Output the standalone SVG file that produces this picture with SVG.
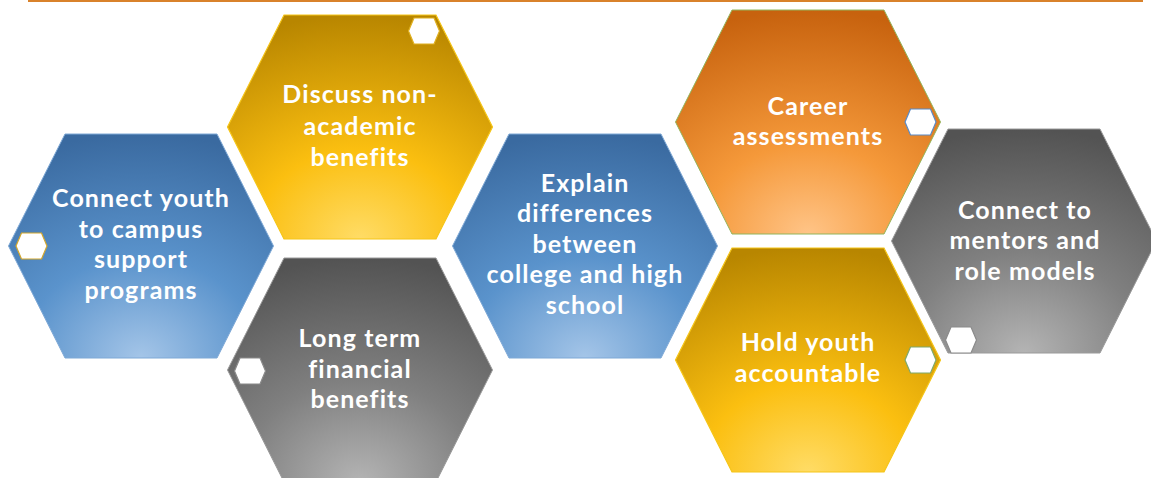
<svg xmlns="http://www.w3.org/2000/svg" width="1151" height="478" viewBox="0 0 1151 478">
<defs>
<radialGradient id="gBlue" cx="0.5" cy="1" r="1" fx="0.5" fy="1">
<stop offset="0" stop-color="#a4c5e8"/><stop offset="0.45" stop-color="#5a93cc"/><stop offset="1" stop-color="#3a6aa0"/>
</radialGradient>
<radialGradient id="gGold" cx="0.5" cy="1" r="1" fx="0.5" fy="1">
<stop offset="0" stop-color="#ffdc66"/><stop offset="0.4" stop-color="#fbbf10"/><stop offset="1" stop-color="#b88600"/>
</radialGradient>
<radialGradient id="gGray" cx="0.5" cy="1" r="1" fx="0.5" fy="1">
<stop offset="0" stop-color="#b4b4b4"/><stop offset="0.45" stop-color="#808080"/><stop offset="1" stop-color="#535353"/>
</radialGradient>
<radialGradient id="gOrange" cx="0.5" cy="1" r="1" fx="0.5" fy="1">
<stop offset="0" stop-color="#ffc487"/><stop offset="0.4" stop-color="#f5993a"/><stop offset="1" stop-color="#c7620e"/>
</radialGradient>
<polygon id="hex" points="-76,-112 76,-112 132.5,0 76,112 -76,112 -132.5,0"/>
<polygon id="mini" points="-10,-13 10,-13 15.5,0 10,13 -10,13 -15.5,0"/>
</defs>
<style>
.t{font-family:Lato,"Liberation Sans",sans-serif;font-weight:bold;font-size:25px;letter-spacing:1.1px;fill:#fff;text-anchor:middle}
.blue{fill:url(#gBlue);stroke:#7fa9d6;stroke-width:1}
.gold{fill:url(#gGold);stroke:#f5c518;stroke-width:1.2}
.gray{fill:url(#gGray);stroke:#9a9a9a;stroke-width:1}
.orange{fill:url(#gOrange);stroke:#93b45a;stroke-width:1}
.m{fill:#fff;stroke-width:1.2}
</style>
<rect width="1151" height="478" fill="#fff"/>
<line x1="28" y1="1" x2="1143" y2="1" stroke="#d9822b" stroke-width="2"/>

<g id="node-connect-youth">
<use href="#hex" class="blue" transform="translate(141,246)"/>
<use href="#mini" class="m" stroke="#d4a72c" transform="translate(31.5,246)"/>
<text class="t"><tspan x="141" y="207">Connect youth</tspan><tspan x="141" y="238">to campus</tspan><tspan x="141" y="268">support</tspan><tspan x="141" y="299">programs</tspan></text>
</g>

<g id="node-non-academic">
<use href="#hex" class="gold" transform="translate(360,127)"/>
<use href="#mini" class="m" stroke="#e0b020" transform="translate(424,31)"/>
<text class="t"><tspan x="360" y="103">Discuss non-</tspan><tspan x="360" y="135">academic</tspan><tspan x="360" y="166">benefits</tspan></text>
</g>

<g id="node-financial">
<use href="#hex" class="gray" transform="translate(360,370)"/>
<use href="#mini" class="m" stroke="#8a8a8a" transform="translate(250,371)"/>
<text class="t"><tspan x="360" y="347">Long term</tspan><tspan x="360" y="378">financial</tspan><tspan x="360" y="408">benefits</tspan></text>
</g>

<g id="node-differences">
<use href="#hex" class="blue" transform="translate(585,246)"/>
<text class="t"><tspan x="585" y="192">Explain</tspan><tspan x="585" y="222">differences</tspan><tspan x="585" y="253">between</tspan><tspan x="585" y="283">college and high</tspan><tspan x="585" y="314">school</tspan></text>
</g>

<g id="node-career">
<use href="#hex" class="orange" transform="translate(808,122)"/>
<use href="#mini" class="m" stroke="#5a8ac6" transform="translate(920.5,122)"/>
<text class="t"><tspan x="808" y="115">Career</tspan><tspan x="808" y="145">assessments</tspan></text>
</g>

<g id="node-accountable">
<use href="#hex" class="gold" transform="translate(808,360)"/>
<use href="#mini" class="m" stroke="#7fa86a" transform="translate(920.5,360)"/>
<text class="t"><tspan x="808" y="351">Hold youth</tspan><tspan x="808" y="382">accountable</tspan></text>
</g>

<g id="node-mentors">
<use href="#hex" class="gray" transform="translate(1024,241)"/>
<use href="#mini" class="m" stroke="#8a8a8a" transform="translate(961,340)"/>
<text class="t"><tspan x="1025" y="219">Connect to</tspan><tspan x="1025" y="249">mentors and</tspan><tspan x="1025" y="280">role models</tspan></text>
</g>
</svg>
